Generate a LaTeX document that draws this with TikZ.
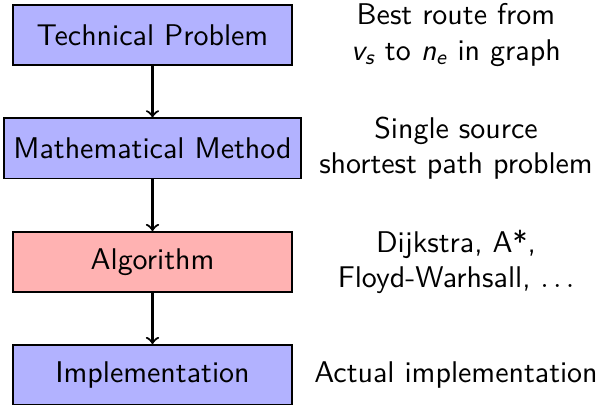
\documentclass[tikz,border=0pt]{standalone}
\usetikzlibrary{positioning}
\begin{document}
\begin{tikzpicture}[x=0.3472pt,y=-0.3472pt,
  font=\sffamily\fontsize{10.4}{12.3}\selectfont,
  stage/.style={draw, line width=0.55pt, minimum width=96.8pt, minimum height=20.9pt, inner sep=3.33pt},
  bluebox/.style={stage, fill=blue!30},
  redbox/.style={stage, fill=red!30},
  note/.style={align=center},
  flow/.style={->, line width=0.75pt}]
\useasboundingbox (0,0) rectangle (596,405);
\node[bluebox] (tp) at (152.5,35) {Technical Problem};
\node[bluebox] (mm) at (152.5,148.3) {Mathematical Method};
\node[redbox]  (al) at (152.5,262) {Algorithm};
\node[bluebox] (im) at (152.5,375) {Implementation};
\draw[flow] (tp) -- (mm);
\draw[flow] (mm) -- (al);
\draw[flow] (al) -- (im);
\node[note] (n1) at (456,35) {Best route from\\{\itshape v\textsubscript{s}} to {\itshape n\textsubscript{e}} in graph};
\node[note] (n2) at (456,148.3) {Single source\\shortest path problem};
\node[note] (n3) at (456,262) {Dijkstra, A*,\\Floyd-Warhsall, $\ldots$};
\node[note] (n4) at (456,375) {Actual implementation};
\end{tikzpicture}
\end{document}
